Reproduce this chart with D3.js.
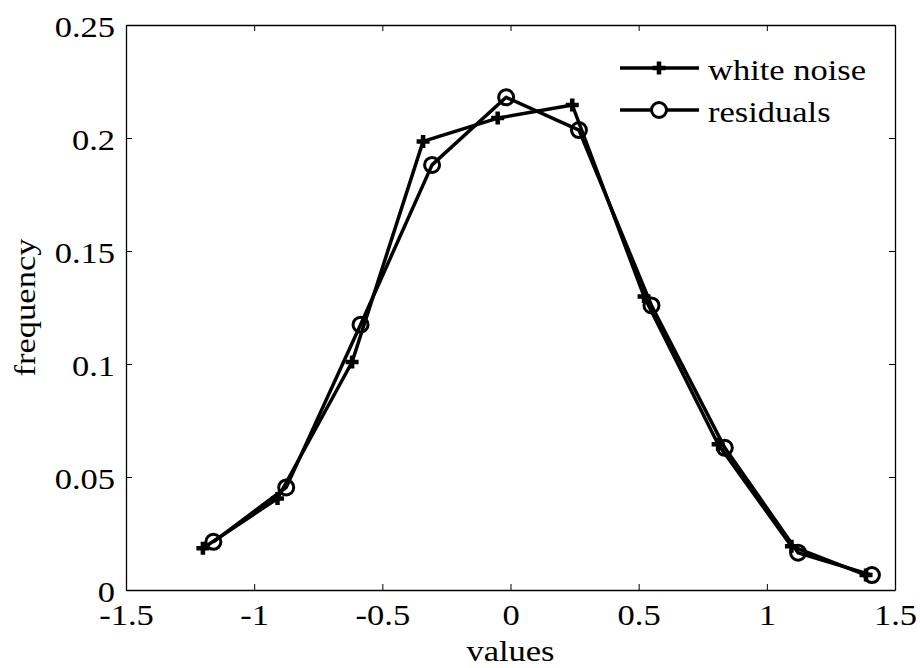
<!DOCTYPE html>
<html>
<head>
<meta charset="utf-8">
<script src="https://cdn.jsdelivr.net/npm/d3@7"></script>
<style>
  body { margin: 0; background: #fff; }
  svg { display: block; }
  text { font-family: "Liberation Serif", "Times New Roman", serif; fill: #000; }
</style>
</head>
<body>
<div id="chart"></div>
<script>
var width = 920
var height = 668

// bin centres and frequencies
var noiseX = [-1.200, -0.909, -0.618, -0.341, -0.050, 0.241, 0.521, 0.810, 1.096, 1.387]
var noiseY = [0.0185, 0.0405, 0.1009, 0.1985, 0.2088, 0.2146, 0.1299, 0.0645, 0.0194, 0.0066]
var residX = [-1.159, -0.875, -0.585, -0.306, -0.017, 0.267, 0.550, 0.836, 1.122, 1.410]
var residY = [0.0213, 0.0454, 0.1174, 0.1881, 0.2180, 0.2035, 0.1259, 0.0629, 0.0165, 0.0066]
var xTicks = [-1.5, -1, -0.5, 0, 0.5, 1, 1.5]
var yTicks = [0, 0.05, 0.1, 0.15, 0.2, 0.25]
var seriesNames = ["white noise", "residuals"]

var margin = {left: 126, right: 25, top: 25, bottom: 78}
var stretch = 1.15   // the original figure text looks a bit wide

var x = d3.scaleLinear().domain([-1.5, 1.5]).range([margin.left, width - margin.right])
var y = d3.scaleLinear().domain([0, 0.25]).range([height - margin.bottom, margin.top])

var svg = d3.select("#chart")
    .append("svg")
        .attr("width", width)
        .attr("height", height)

var fmt = function(d) { return String(d) }

// box and ticks (inward, like matlab)
var gx = svg.append("g")
    .attr("transform", "translate(0," + y(0) + ")")
    .call(d3.axisBottom(x).tickValues(xTicks).tickFormat(fmt).tickSizeInner(-6).tickSizeOuter(0))
var gxTop = svg.append("g")
    .attr("transform", "translate(0," + y(0.25) + ")")
    .call(d3.axisTop(x).tickValues(xTicks).tickFormat("").tickSizeInner(-6).tickSizeOuter(0))
var gy = svg.append("g")
    .attr("transform", "translate(" + x(-1.5) + ",0)")
    .call(d3.axisLeft(y).tickValues(yTicks).tickFormat(fmt).tickSizeInner(-6).tickSizeOuter(0))
var gyRight = svg.append("g")
    .attr("transform", "translate(" + x(1.5) + ",0)")
    .call(d3.axisRight(y).tickValues(yTicks).tickFormat("").tickSizeInner(-6).tickSizeOuter(0))

svg.selectAll(".domain").attr("stroke", "#000").attr("stroke-width", 1.3)
svg.selectAll(".tick line").attr("stroke", "#000").attr("stroke-width", 1)

gx.selectAll(".tick text")
    .attr("y", 0).attr("dy", 0)
    .attr("font-size", "30px")
    .attr("font-family", null)
    .attr("text-anchor", "middle")
    .attr("transform", "translate(0,35) scale(" + stretch + ",1)")

gy.selectAll(".tick text")
    .attr("x", 0).attr("dy", 0)
    .attr("font-size", "30px")
    .attr("font-family", null)
    .attr("text-anchor", "end")
    .attr("transform", "translate(-11,11) scale(" + stretch + ",1)")

svg.append("text")
    .attr("text-anchor", "middle")
    .attr("font-size", "30px")
    .attr("transform", "translate(" + x(0) + ",661) scale(" + stretch + ",1)")
    .text("values")

svg.append("text")
    .attr("text-anchor", "middle")
    .attr("font-size", "30px")
    .attr("transform", "translate(35," + y(0.125) + ") rotate(-90) scale(" + stretch + ",1)")
    .text("frequency")

var noise = noiseX.map(function(d, i) { return {x: d, y: noiseY[i]} })
var resid = residX.map(function(d, i) { return {x: d, y: residY[i]} })

var line = d3.line()
    .x(function(d) { return x(d.x) })
    .y(function(d) { return y(d.y) })

function plusPath(cx, cy, s) {
    return "M" + (cx - s) + "," + cy + "H" + (cx + s) + "M" + cx + "," + (cy - s) + "V" + (cy + s)
}

svg.append("path")
    .datum(noise)
    .attr("fill", "none")
    .attr("stroke", "#000")
    .attr("stroke-width", 3.5)
    .attr("stroke-linejoin", "round")
    .attr("d", line)

svg.selectAll(".plus")
    .data(noise)
    .enter().append("path")
        .attr("class", "plus")
        .attr("stroke", "#000")
        .attr("stroke-width", 4.5)
        .attr("d", function(d) { return plusPath(x(d.x), y(d.y), 6.5) })

svg.append("path")
    .datum(resid)
    .attr("fill", "none")
    .attr("stroke", "#000")
    .attr("stroke-width", 3.5)
    .attr("stroke-linejoin", "round")
    .attr("d", line)

svg.selectAll(".circ")
    .data(resid)
    .enter().append("circle")
        .attr("class", "circ")
        .attr("cx", function(d) { return x(d.x) })
        .attr("cy", function(d) { return y(d.y) })
        .attr("r", 7.5)
        .attr("fill", "none")
        .attr("stroke", "#000")
        .attr("stroke-width", 3)

// legend
var legend = svg.append("g")
var rows = [68, 110]
seriesNames.forEach(function(name, i) {
    var ly = rows[i]
    legend.append("line")
        .attr("x1", 620).attr("x2", 699)
        .attr("y1", ly).attr("y2", ly)
        .attr("stroke", "#000")
        .attr("stroke-width", 3.5)
    if (i === 0) {
        legend.append("path")
            .attr("stroke", "#000")
            .attr("stroke-width", 4.5)
            .attr("d", plusPath(659, ly, 6.5))
    } else {
        legend.append("circle")
            .attr("cx", 659).attr("cy", ly).attr("r", 7.5)
            .attr("fill", "#fff")
            .attr("stroke", "#000")
            .attr("stroke-width", 3)
    }
    legend.append("text")
        .attr("font-size", "30px")
        .attr("transform", "translate(708," + (ly + 12) + ") scale(" + stretch + ",1)")
        .text(name)
})
</script>
</body>
</html>
